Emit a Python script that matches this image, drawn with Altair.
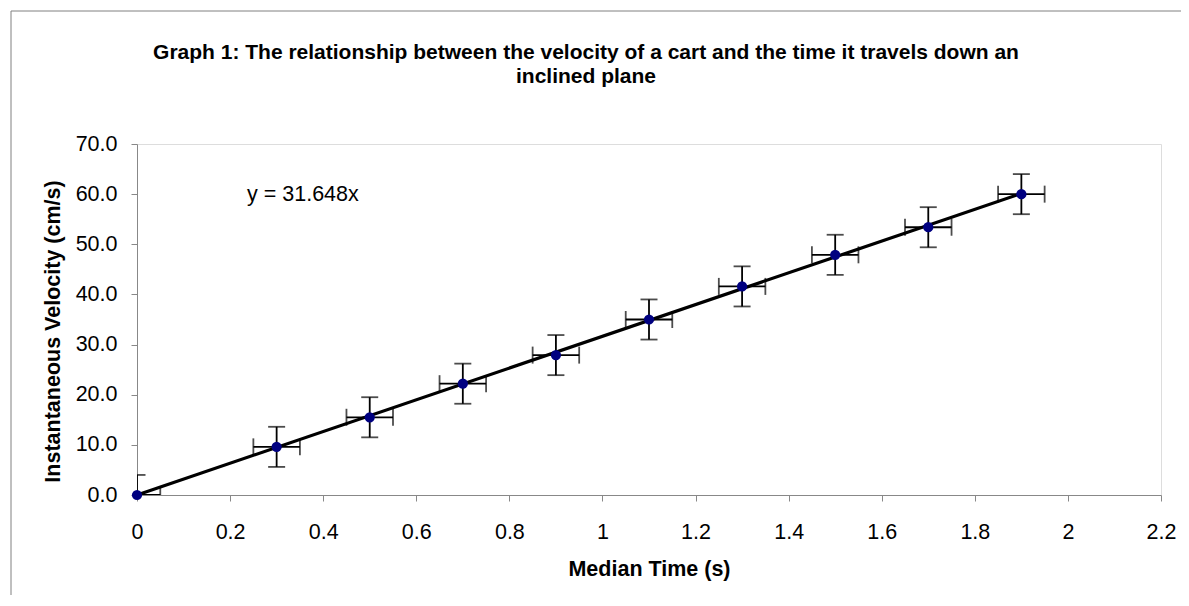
import altair as alt
import pandas as pd

# ---- data ----
time_s = [0.0, 0.3, 0.5, 0.7, 0.9, 1.1, 1.3, 1.5, 1.7, 1.9]
velocity = [0.0, 9.6, 15.5, 22.2, 27.9, 35.0, 41.6, 47.9, 53.4, 60.0]
time_err = [0.05] * 10
vel_err = [4.0] * 10
slope = 31.648
trend_x = [0.0, 1.9]
x_ticks = [0, 0.2, 0.4, 0.6, 0.8, 1.0, 1.2, 1.4, 1.6, 1.8, 2.0, 2.2]
y_ticks = [0, 10, 20, 30, 40, 50, 60, 70]

title_lines = ["Graph 1: The relationship between the velocity of a cart and the time it travels down an",
               "inclined plane"]

df = pd.DataFrame({"t": time_s, "v": velocity, "te": time_err, "ve": vel_err})
df["tlo"] = df["t"] - df["te"]
df["thi"] = df["t"] + df["te"]
df["vlo"] = df["v"] - df["ve"]
df["vhi"] = df["v"] + df["ve"]
trend = pd.DataFrame({"t": trend_x, "v": [slope * x for x in trend_x]})

FONT = "Liberation Sans"
xscale = alt.Scale(domain=[0, 2.2], nice=False, zero=False)
yscale = alt.Scale(domain=[0, 70], nice=False)
xaxis = alt.Axis(title="Median Time (s)", values=x_ticks, format=".1~f", grid=False, labelFlush=False,
                 labelFontSize=21.5, labelPadding=20, tickSize=6, titleFontSize=21.5,
                 titleFontWeight="bold", titlePadding=16)
yaxis = alt.Axis(title="Instantaneous Velocity (cm/s)", values=y_ticks, format=".1f", grid=False,
                 labelFontSize=21.5, labelPadding=14, tickSize=6, titleFontSize=21.5,
                 titleFontWeight="bold", titleX=-84, titleY=187, titleAngle=-90,
                 titleBaseline="middle", titleAlign="center")


def X(field):
    return alt.X(field, type="quantitative", scale=xscale, axis=xaxis)


def Y(field):
    return alt.Y(field, type="quantitative", scale=yscale, axis=yaxis)


base = alt.Chart(df)
err_color = "black"
EW = 1.8

v_bars = base.mark_rule(clip=True, color=err_color, strokeWidth=EW).encode(
    x=X("t"), y=Y("vlo"), y2="vhi")
h_bars = base.mark_rule(clip=True, color=err_color, strokeWidth=EW).encode(
    x=X("tlo"), x2="thi", y=Y("v"))
cap_top = base.mark_tick(clip=True, orient="horizontal", size=17, thickness=EW, color=err_color).encode(
    x=X("t"), y=Y("vhi"))
cap_bot = base.mark_tick(clip=True, orient="horizontal", size=17, thickness=EW, color=err_color).encode(
    x=X("t"), y=Y("vlo"))
cap_l = base.mark_tick(clip=True, orient="vertical", size=17, thickness=EW, color=err_color).encode(
    x=X("tlo"), y=Y("v"))
cap_r = base.mark_tick(clip=True, orient="vertical", size=17, thickness=EW, color=err_color).encode(
    x=X("thi"), y=Y("v"))

line = alt.Chart(trend).mark_line(color="black", strokeWidth=3.2).encode(x=X("t"), y=Y("v"))

points = base.mark_point(filled=True, shape="circle", size=105, color="#000080", opacity=1).encode(
    x=X("t"), y=Y("v"))

label = alt.Chart(alt.Data(values=[{"txt": "y = 31.648x"}])).mark_text(
    font=FONT, fontSize=21.5, align="left", baseline="alphabetic", color="black").encode(
    x=alt.value(110), y=alt.value(57), text="txt:N")

title1 = alt.Chart(alt.Data(values=[{"txt": title_lines[0]}])).mark_text(
    font=FONT, fontSize=21, fontWeight="bold", align="center", baseline="alphabetic", color="black").encode(
    x=alt.value(449), y=alt.value(-85), text="txt:N")
title2 = alt.Chart(alt.Data(values=[{"txt": title_lines[1]}])).mark_text(
    font=FONT, fontSize=21, fontWeight="bold", align="center", baseline="alphabetic", color="black").encode(
    x=alt.value(449), y=alt.value(-61), text="txt:N")

border_v = alt.Chart(alt.Data(values=[{}])).mark_rule(color="#808080", strokeWidth=1).encode(
    x=alt.value(-126), y=alt.value(-133), y2=alt.value(600))
border_h = alt.Chart(alt.Data(values=[{}])).mark_rule(color="#808080", strokeWidth=1).encode(
    x=alt.value(-126), x2=alt.value(1100), y=alt.value(-133))

chart = alt.layer(border_v, border_h, title1, title2, v_bars, h_bars, cap_top, cap_bot, cap_l, cap_r,
                  line, points, label).properties(
    width=1024, height=351,
    padding={"left": 129, "top": 136, "right": 20, "bottom": 100},
    autosize=alt.AutoSizeParams(type="none"),
).configure_view(stroke="#808080", strokeWidth=1).configure_axis(
    labelFont=FONT, titleFont=FONT, labelColor="black", titleColor="black",
    domainColor="black", tickColor="black", domainWidth=1, tickWidth=1
).configure(background="white")

chart.save("out.html", embed_options={"renderer": "svg", "actions": False})
